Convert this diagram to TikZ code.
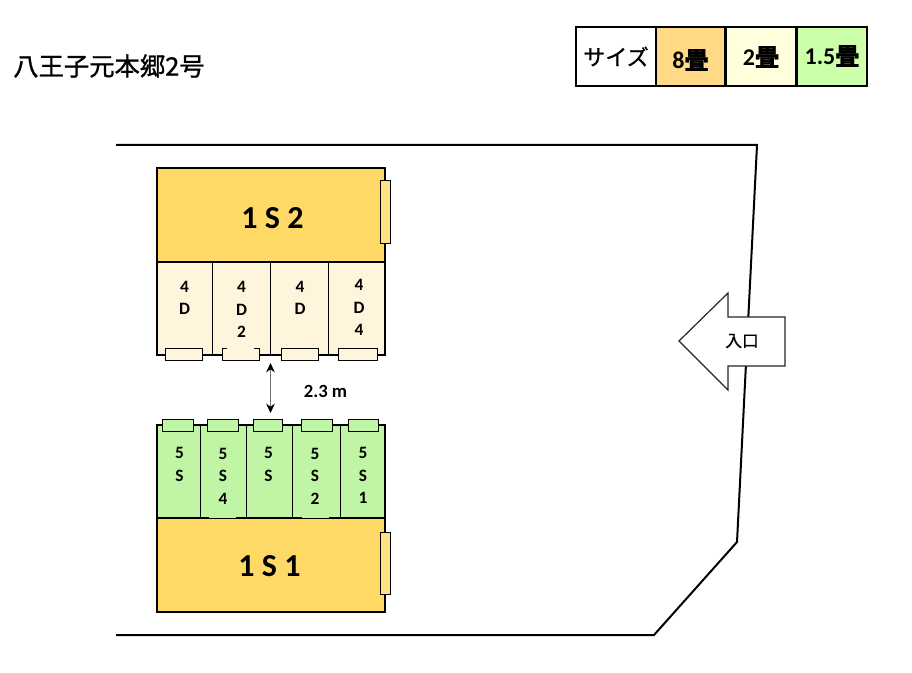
\documentclass[tikz,border=0pt]{standalone}
\usepackage{fontspec}
\setmainfont{Carlito}
\newfontfamily\cjkmid{Noto Sans CJK JP}[FakeBold=1]
\usetikzlibrary{arrows.meta}
\definecolor{bigroom}{HTML}{FFD966}
\definecolor{legendA}{HTML}{FFD985}
\definecolor{legendB}{HTML}{FFFFDD}
\definecolor{legendC}{HTML}{CCFFAA}
\definecolor{creamroom}{HTML}{FFF4DC}
\definecolor{greenroom}{HTML}{C0F5A5}
\tikzset{
 wall/.style={draw,line width=2.2pt},
 thinwall/.style={line width=0.6pt},
 legendbox/.style={draw,line width=1.6pt,minimum height=44.5pt,inner sep=0pt,font=\bfseries\fontsize{18}{20}\selectfont},
 window/.style={draw,line width=0.75pt,inner sep=0pt},
 roomtext/.style={align=center,inner sep=0pt,font=\bfseries\fontsize{13}{16.9}\selectfont},
 bigtext/.style={inner sep=0pt,font=\bfseries\fontsize{24}{28}\selectfont}
}
\begin{document}
\begin{tikzpicture}[x=0.75pt,y=-0.75pt]
\useasboundingbox (0,0) rectangle (912,673);
% title
\node[inner sep=0pt,anchor=west,font=\cjkmid\fontsize{19}{21}\selectfont] (title) at (13,66) {八王子元本郷2号};
% legend
\node[legendbox,minimum width=60pt,font=\cjkmid\fontsize{16.5}{20}\selectfont] (size) at (616,56.5) {サイズ};
\node[legendbox,minimum width=51.75pt,fill=legendA] (eight) at (690.5,56.5) {};
\node[legendbox,minimum width=53.25pt,fill=legendB] (two) at (761,56.5) {};
\node[legendbox,minimum width=52.5pt,fill=legendC] (onehalf) at (832,56.5) {};
\node[inner sep=0pt,font=\bfseries\fontsize{18}{20}\selectfont] (eightT) at (690.5,60) {8{\cjkmid 畳}};
\node[inner sep=0pt,font=\bfseries\fontsize{18}{20}\selectfont] (twoT) at (761,57) {2{\cjkmid 畳}};
\node[inner sep=0pt,font=\bfseries\fontsize{18}{20}\selectfont] (onehalfT) at (832,56) {1.5{\cjkmid 畳}};
% site outline
\draw[line width=1.5pt,line join=miter] (116,145) -- (757,145) -- (737,542) -- (654,635) -- (116,635);
% entrance
\draw[fill=white,line width=0.9pt,draw=black!85] (679,341) -- (728,293) -- (728,317) -- (785,317) -- (785,366) -- (728,366) -- (728,390) -- cycle;
\node[inner sep=0pt,font=\cjkmid\fontsize{12.5}{14}\selectfont] (entrance) at (742,341) {入口};
% upper block
\fill[creamroom] (157,262) rectangle (385,355);
\foreach \x in {212,270,328}
 \draw[thinwall] (\x,260) -- (\x,355);
\draw[wall] (157,262) -- (157,355) -- (385,355) -- (385,262);
\node[wall,fill=bigroom,minimum width=171pt,minimum height=70.5pt,inner sep=0pt] (roomA) at (271,215) {};
\node[bigtext] (roomAT) at (272.5,218) {1 S 2};
\foreach \xa/\xb [count=\i] in {165/202,222/259.5,281/318,338/377}
 \node[window,fill=creamroom,minimum width={(\xb-\xa)*0.75pt},minimum height=9pt] (wu\i) at ({(\xa+\xb)/2},354) {};
\fill[creamroom] (227,347) rectangle (254,352);
\node[window,fill=bigroom!80!white,minimum width=7.5pt,minimum height=47.25pt] (wa) at (385,212.5) {};
\node[roomtext] (ua) at (184.5,298) {4\\D};
\node[roomtext] (ub) at (241.5,309.5) {4\\D\\2};
\node[roomtext] (uc) at (300,298) {4\\D};
\node[roomtext] (ud) at (359,307.5) {4\\D\\4};
% gap
\coordinate (gapA) at (270.5,363);
\coordinate (gapB) at (270.5,413);
\draw[{Stealth[length=7pt,width=6.5pt,black]}-{Stealth[length=7pt,width=6.5pt,black]},draw=black!55,line width=0.8pt] (gapA) -- (gapB);
\node[inner sep=0pt,font=\bfseries\fontsize{14}{16}\selectfont] (gapT) at (325.5,391) {2.3 m};
% lower block
\fill[greenroom] (157,425) rectangle (385,518);
\foreach \x in {200,246.5,292.5,340.5}
 \draw[thinwall] (\x,425) -- (\x,518);
\draw[wall] (157,518) -- (157,425) -- (385,425) -- (385,518);
\node[wall,fill=bigroom,minimum width=171pt,minimum height=70.5pt,inner sep=0pt] (roomB) at (271,565) {};
\node[bigtext] (roomBT) at (269.5,566) {1 S 1};
\foreach \xa/\xb [count=\i] in {162.5/193.5,207/238.5,253/282.5,301/332,348/378.5}
 \node[window,fill=greenroom,minimum width={(\xb-\xa)*0.75pt},minimum height=9pt] (wl\i) at ({(\xa+\xb)/2},425) {};
\fill[greenroom] (209,516.3) rectangle (236,518);
\fill[greenroom] (302,516.3) rectangle (329,518);
\node[window,fill=bigroom!80!white,minimum width=7.5pt,minimum height=46.5pt] (wb) at (385,563) {};
\node[roomtext] (la) at (179.5,464.5) {5\\S};
\node[roomtext] (lb) at (223,476) {5\\S\\4};
\node[roomtext] (lc) at (268.5,464.5) {5\\S};
\node[roomtext] (ld) at (315,476) {5\\S\\2};
\node[roomtext] (le) at (363,475.5) {5\\S\\1};
\end{tikzpicture}
\end{document}
